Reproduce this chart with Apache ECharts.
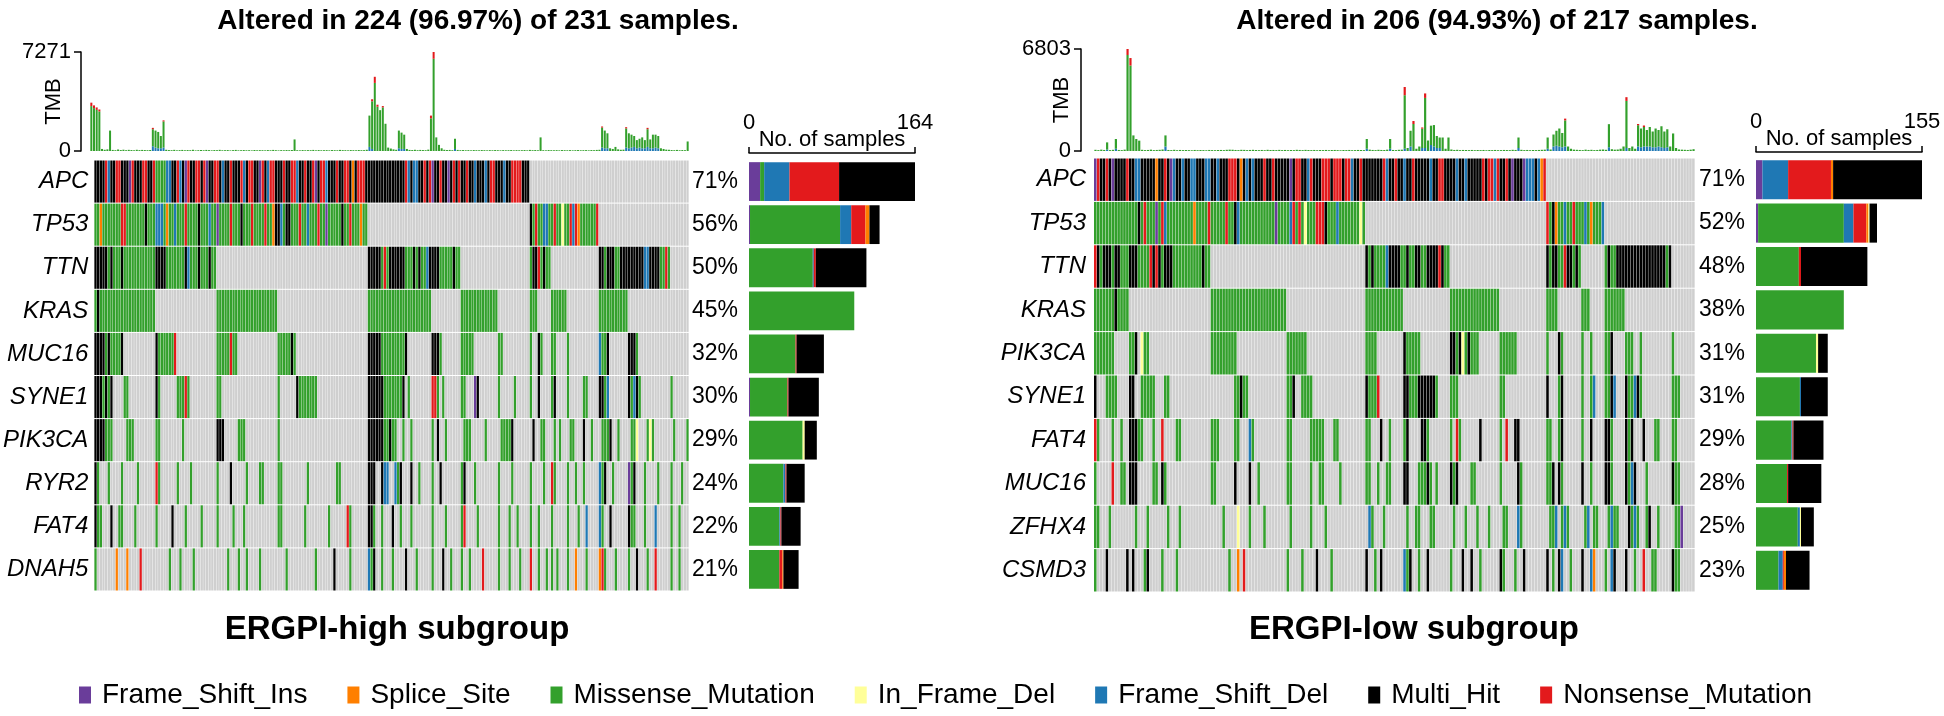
<!DOCTYPE html>
<html>
<head>
<meta charset="utf-8">
<title>Oncoplot ERGPI subgroups</title>
<script src="https://cdn.jsdelivr.net/npm/echarts@6.0.0/dist/echarts.min.js"></script>
<style>
html, body { margin: 0; padding: 0; background: #fff; }
#main { width: 1944px; height: 716px; }
</style>
</head>
<body>
<div id="main"></div>
<script>
// variant classes, legend order
var classNames = ['Frame_Shift_Ins', 'Splice_Site', 'Missense_Mutation', 'In_Frame_Del', 'Frame_Shift_Del', 'Multi_Hit', 'Nonsense_Mutation'];
var classCodes = ['I', 'S', 'M', 'F', 'D', 'X', 'N'];
var classColors = ['#6A3D9A', '#FF7F00', '#33A02C', '#FFFF99', '#1F78B4', '#000000', '#E31A1C'];
var stackOrder = ['I', 'M', 'D', 'N', 'S', 'F', 'X'];
var noneColor = '#CFCFCF';

// ---------- ERGPI-high ----------
var hiTitle = 'Altered in 224 (96.97%) of 231 samples.';
var hiGenes = ['APC', 'TP53', 'TTN', 'KRAS', 'MUC16', 'SYNE1', 'PIK3CA', 'RYR2', 'FAT4', 'DNAH5'];
var hiPct = ['71%', '56%', '50%', '45%', '32%', '30%', '29%', '24%', '22%', '21%'];
var hiMax = 164;
var hiTmbMax = 7271;
// one run-length string per gene, "X4" = 4 samples Multi_Hit, "." = not mutated
var hiRows = [
  'X4 N1 D1 X2 N2 X3 I1 N1 X3 N2 | X2 N1 M4 D2 X2 N1 D1 X1 I1 N1 X2 N2 | X1 N1 I1 X2 N2 X1 D1 X2 N1 X3 N1 D1 X1 N2 | X2 I1 N1 X1 D1 N2 X3 N1 X1 X1 N2 D1 X2 N1 | X2 N1 I1 X1 N2 D1 X3 N1 X2 N2 X1 S1 X1 N3 X1 | X14 N1 D1 X1 D2 X2 N1 X1 N1 I1 X2 N1 X2 I1 X1 N1 X1 N1 X2 N1 X2 D1 X3 D1 X1 N2 X3 D1 X2 N4 X3 | .60',
  'M2 S1 M7 N2 M7 X1 M3 D3 M1 S1 M2 D1 M3 N1 M4 X1 M3 D1 M2 I1 M4 N1 M3 X1 M3 N1 M4 N1 M2 S1 X2 D1 M1 X2 M3 N1 M2 D1 M3 N1 M2 I1 M5 X1 M2 N1 M3 S1 M2 | .61 | X1 M1 N1 M2 D2 M2 N1 M2 F1 M2 N1 D1 N1 S1 M6 N1 | .34',
  'X5 M1 X1 M3 X1 M12 X4 M7 X1 D1 M3 X1 M3 X1 M2 | .57 | X5 M1 N1 M1 X6 M3 X1 M1 X1 M2 D1 X4 M5 X1 M2 | .26 | M1 X2 N1 M1 X1 M2 | .18 | X2 M1 X3 M2 X9 D2 X4 M2 N1 M1 | .7',
  'M1 X1 M21 | .23 | M23 | .34 | M24 | .11 | M14 | .12 | M3 | .5 | M6 | .12 | M11 | .16 | .7',
  'X4 M1 X1 M4 X1 .12 | X1 M6 N1 .15 | M5 N1 M2 .15 | M5 X1 M1 .27 | X5 M9 X1 .9 | X3 M1 .7 | M5 .9 | M2 .10 | M1 .2 | X1 M1 .3 | M2 .4 | M1 .11 | D1 M2 X1 .7 | X3 M1 .12 | .7',
  'X3 M1 X1 M1 X1 .4 M2 .10 | X1 M1 .6 M3 N1 M1 .10 | M2 .6 .15 | M1 .6 X1 M7 .19 | X6 M7 X1 .1 M1 .8 | N2 M1 .1 M1 .6 | M2 .3 I1 X1 .7 | M1 .5 M1 .5 | M1 .2 | X1 .4 | M1 X1 .4 | M1 .5 M2 .4 | X2 M1 D1 .7 | X1 M1 D1 X1 M1 .11 | M1 .6',
  'X4 M3 .5 M3 .8 | M2 .8 M1 .12 | X3 .5 M3 .12 | M1 .33 | X6 M2 X1 M2 .2 M1 .2 M1 .7 | M1 .1 X1 .2 M1 .6 | M3 .5 M1 .5 | M4 X1 .7 | X1 .2 | M2 .3 | M1 .1 M1 .3 | M2 .3 X1 .2 M1 .3 | M3 X1 .2 M1 .4 | M2 F1 .3 M1 F1 M1 .7 | M1 .4 M1 .1',
  'X1 M1 .3 M1 .4 M1 .5 M1 .6 | N1 M1 .6 M1 .4 M1 .9 | M1 .4 X1 .5 M1 .4 M2 .5 | M2 .9 M1 .10 M2 .10 | X3 .2 X1 D2 .2 D1 M1 X1 .3 X1 .2 M1 .4 | M1 .2 X1 .7 | M1 X1 .3 M1 .8 | M1 .4 M1 .6 | M1 .2 | .2 M1 .2 | N1 M1 .4 | M1 .2 M1 .2 M1 .5 | D1 M1 X1 .2 M1 .5 | I1 M1 X1 .3 M1 .4 M1 .4 | M1 .3 M1 .2',
  'X1 M2 .3 X1 .2 M2 .4 M1 .7 | M1 .5 X1 .4 M1 .5 M1 .5 | M1 .5 M1 .3 M1 .12 | M2 .8 M1 .8 M1 .6 N1 M1 .6 | X2 M1 .2 M1 .3 X1 .2 M1 .3 M1 .7 | M1 .4 M1 .5 | M1 N1 .4 M1 .7 | M1 .3 M1 .2 M1 .4 | M1 .2 | M1 .4 | M1 .5 | M1 .3 M1 .2 D1 .4 | D1 M1 .2 X1 .6 | X1 M2 .3 M1 .3 D1 .5 | M1 .2 M1 .3',
  'M1 .7 S1 .3 S1 .4 N1 .5 | .5 M1 .3 M1 .4 M1 .8 | .4 M1 .3 M1 .2 M1 .4 M1 .6 | .3 M1 .10 M1 .6 X1 .5 M1 .6 | D1 M1 X1 .2 M1 .3 M1 .4 X1 .3 M1 .5 | M1 .3 X1 .2 M1 .3 | M1 .2 M1 .4 N1 .5 | M1 .3 M1 .3 M1 .3 | N1 .2 | M1 .2 M1 .1 | M1 .1 M1 .3 | M1 .2 S1 .3 M1 .4 | S1 N1 M1 .3 M1 .4 | M1 .2 X1 .3 M1 .2 N1 .5 | M1 .2 M1 .3'
];
var hiTmb = [
  3550, 3350, 3200, 3050, 150, 90, 120, 1500, 80, 60, 110, 70, 95, 60, 85, 70,
  55, 90, 65, 80, 70, 60, 75, 1700, 1500, 1400, 1100, 2250, 90, 70, 60, 85,
  50, 65, 80, 55, 70, 60, 90, 45, 60, 75, 55, 80, 65, 50, 70, 60,
  85, 55, 60, 70, 45, 65, 80, 50, 60, 70, 55, 60, 45, 75, 55, 65,
  60, 50, 70, 55, 80, 60, 45, 65, 55, 70, 60, 75, 850, 60, 50, 70,
  55, 65, 60, 80, 50, 70, 55, 60, 65, 50, 70, 60, 55, 80, 65, 60,
  50, 70, 60, 55, 75, 60, 65, 90, 2600, 3800, 5450, 3400, 3000, 3300, 2000, 250,
  180, 120, 90, 1500, 1350, 1200, 150, 80, 70, 90, 60, 80, 70, 60, 100, 2600,
  7271, 1000, 450, 200, 90, 70, 80, 60, 900, 80, 60, 70, 55, 65, 50, 70,
  60, 55, 70, 60, 50, 65, 55, 70, 60, 50, 65, 55, 60, 70, 50, 65,
  55, 60, 70, 50, 80, 60, 70, 55, 1000, 60, 50, 70, 60, 55, 65, 50,
  70, 60, 55, 65, 50, 60, 70, 55, 60, 65, 50, 70, 60, 80, 90, 1800,
  1500, 1300, 200, 150, 300, 120, 90, 100, 1750, 1300, 1200, 1100, 800, 900, 1000, 800,
  1700, 850, 1200, 1200, 1100, 200, 150, 100, 90, 70, 60, 80, 55, 70, 60, 700
];
// nonsense (red top) and frame-shift (blue bottom) part of some TMB bars, by sample index
var hiTmbNon = {0: 250, 1: 200, 2: 180, 3: 150, 23: 100, 27: 80, 105: 150, 106: 450, 107: 150, 109: 100, 127: 200, 128: 500, 191: 80, 200: 90, 208: 100};
var hiTmbDel = {23: 350, 24: 250, 25: 200, 26: 200, 27: 250, 104: 300, 105: 150, 115: 200, 116: 150, 117: 150, 136: 150, 191: 250, 192: 200, 193: 200, 200: 250, 201: 200, 202: 250, 203: 300, 204: 200, 205: 250, 206: 200, 207: 200, 208: 300, 209: 200, 210: 200, 211: 250, 212: 200};
// No. of samples per class and gene
var hiBarI = [11, 1, 0, 0, 0, 1, 0, 0, 0, 0];
var hiBarS = [0, 4, 0, 0, 0, 0, 0, 0, 0, 1];
var hiBarM = [4, 89, 63, 104, 46, 37, 53, 34, 30, 30];
var hiBarF = [0, 0, 0, 0, 0, 0, 2, 0, 0, 0];
var hiBarD = [25, 11, 1, 0, 0, 0, 0, 2, 1, 0];
var hiBarX = [75, 10, 50, 0, 27, 30, 12, 18, 19, 15];
var hiBarN = [49, 14, 2, 0, 1, 1, 0, 1, 1, 3];

// ---------- ERGPI-low ----------
var loTitle = 'Altered in 206 (94.93%) of 217 samples.';
var loGenes = ['APC', 'TP53', 'TTN', 'KRAS', 'PIK3CA', 'SYNE1', 'FAT4', 'MUC16', 'ZFHX4', 'CSMD3'];
var loPct = ['71%', '52%', '48%', '38%', '31%', '31%', '29%', '28%', '25%', '23%'];
var loMax = 155;
var loTmbMax = 6803;
var loRows = [
  'I1 N1 X2 N1 X1 I1 X4 N1 X2 D2 X5 S1 X2 N1 X1 I1 D1 X2 | D1 X2 D2 X3 D2 X2 D1 X3 N3 X1 S1 X1 D1 X1 D1 X3 N1 X1 | X1 N1 X5 I1 X1 N2 X2 D1 N1 X3 N3 X1 N3 X1 N2 D1 X2 N1 X1 | X6 N1 D1 X2 N1 X2 D1 X2 N1 X5 D1 X2 N2 X4 D1 X2 D1 X5 N1 X1 N2 D1 N1 X2 N1 X1 I1 X3 I1 D3 X1 D1 S1 N1 | .51',
  'M15 X1 M1 N1 M3 I1 M1 N1 D1 M9 S1 M4 N1 M5 N1 M2 X1 D1 M12 I1 M4 D1 N1 M1 N1 M1 F1 M3 N3 X1 M3 D1 M7 F1 M1 | .62 | N1 M1 X1 S1 M2 D1 M2 N1 M3 D1 M1 S1 M3 D1 | .31',
  'N1 X1 M1 X3 M1 X2 M3 X3 M4 N1 X1 N1 X1 M1 X3 M10 X1 M2 | .53 | X1 M1 X1 M4 D1 X4 M2 X1 M2 X2 M2 X4 N1 X1 M2 | .33 | X1 M1 X2 M2 N1 X2 M1 X1 M1 | .8 | M1 X1 M2 X17 M1 X1 | .8',
  'M7 X1 M4 | .28 | M26 | .27 | M13 | .16 | M17 | .16 | M4 | .8 | M3 | .5 | M7 | .16 | .8',
  'M7 .5 | M2 X1 .1 F1 M2 .21 | M9 .17 | M7 .20 | M4 .9 | X1 M5 .10 | X2 M1 X1 F1 M1 X1 M3 .7 | M6 .10 | M1 .3 | X1 M1 .6 | M1 .2 | M1 .4 | M2 X1 .4 | M3 .2 M1 .10 | M1 .7',
  'X1 .3 M4 .4 | X2 .2 M5 .3 M2 .14 | .8 M2 X1 M2 .13 | M2 X1 .2 M4 .18 | X1 M3 N1 .8 | X2 M3 X6 M1 .4 | M3 .14 | M2 .14 | X1 .3 | M1 X1 .6 | M1 .2 | M1 D1 .3 | M2 X1 D1 .3 | X1 M2 D1 X1 M1 .10 | M3 .5',
  'N1 M1 .4 M1 .2 M1 .2 | X3 M2 .3 M1 .2 N1 .4 M2 .10 | M3 .5 M2 .3 D1 M1 .11 | M2 .6 M5 .3 M2 .9 | M2 .3 X1 .2 M1 .4 | M1 X1 .4 X2 M1 .7 | M1 .1 N1 M1 .6 X1 .6 | M1 .1 N1 .2 X2 .9 | M2 .2 | M1 X1 .6 | M1 .2 | X1 .4 | X2 M1 .4 | X1 M1 X1 .3 X1 .3 M2 .4 | M2 .6',
  'M1 .5 N1 .2 M2 .1 | X3 .5 M2 .1 X1 M1 .15 | M2 .6 X1 .4 X1 .2 M1 .9 | M2 .6 M1 .2 M2 .5 M1 .8 | M2 .2 M1 .2 M2 .4 | X2 .3 M3 X1 M1 .1 M1 .4 | X1 M1 X1 .4 M2 .8 | M1 .5 X1 M1 .8 | M2 X1 .1 | X1 M1 .6 | X1 .2 | M1 .4 | X2 M1 .4 | X1 M1 D1 X1 .3 M1 .8 | X1 M2 .5',
  'M2 .3 M1 .6 | .2 M1 .3 M1 .6 M1 .3 M1 .11 | .3 M1 .4 F1 .3 M1 .4 M1 .8 | M1 .6 M1 .4 M1 .14 | D1 M1 .3 M1 .7 | M1 .2 M2 .3 M2 .6 | M1 .3 M1 .3 M1 .3 M1 .4 | M2 .3 D1 M1 .9 | M2 D1 .1 | M1 D1 M1 .5 | M1 D1 .1 | M2 .3 | M1 D1 M2 .3 | X1 M1 D1 M1 .2 M1 X1 .2 M1 .5 | M2 I1 .5',
  'M1 .3 X1 .6 X1 | .1 X1 .3 M1 X1 .4 M1 .4 M1 .11 | .6 M1 .2 S1 .1 N1 .14 | M1 .4 M1 .4 X1 .4 M1 .11 | X1 .2 M1 .1 X1 .7 | D1 M1 X1 .2 M1 .2 X1 .7 | M1 .3 X1 .2 X1 .2 M1 .6 | X1 M1 .3 M1 .2 X1 .7 | X1 .1 M1 .1 | X1 D1 .2 M1 .3 | X1 .2 | D1 S1 .3 | M1 .1 D1 X1 .3 | X1 .2 M1 .2 N1 .2 M2 .5 | X1 M2 .5'
];
var loTmb = [
  80, 60, 90, 70, 575, 60, 80, 800, 70, 60, 90, 6803, 6200, 1040, 800, 690,
  80, 60, 70, 90, 60, 70, 80, 100, 1040, 70, 60, 80, 55, 70, 60, 65,
  60, 50, 70, 55, 65, 60, 50, 70, 60, 55, 65, 70, 60, 80, 90, 85,
  70, 60, 80, 75, 60, 70, 80, 65, 60, 70, 55, 80, 65, 70, 60, 75,
  60, 70, 55, 65, 60, 80, 70, 60, 75, 65, 60, 70, 55, 65, 60, 70,
  55, 65, 70, 60, 50, 65, 60, 70, 55, 60, 70, 65, 60, 800, 90, 70,
  60, 80, 70, 65, 90, 800, 70, 60, 80, 90, 4270, 200, 1350, 2000, 150, 300,
  1570, 3840, 700, 1690, 1730, 1000, 900, 900, 150, 900, 100, 70, 80, 60, 70, 65,
  60, 70, 55, 65, 60, 70, 50, 65, 60, 70, 55, 60, 70, 65, 60, 80,
  70, 900, 80, 60, 70, 55, 65, 60, 70, 80, 90, 900, 100, 1100, 1350, 1500,
  1200, 2160, 300, 150, 90, 80, 70, 60, 90, 70, 80, 60, 70, 90, 100, 80,
  1790, 120, 90, 100, 150, 300, 3590, 200, 300, 150, 1800, 1500, 1700, 1400, 1600, 1300,
  1500, 1400, 1650, 1300, 1450, 300, 1170, 200, 100, 90, 80, 70, 90, 120
];
var loTmbNon = {11: 400, 12: 500, 106: 550, 109: 200, 112: 80, 113: 300, 161: 120, 182: 250, 186: 80, 188: 100};
var loTmbDel = {4: 100, 7: 150, 24: 300, 93: 150, 101: 150, 106: 150, 108: 300, 112: 200, 113: 200, 115: 400, 116: 300, 117: 200, 118: 200, 145: 200, 155: 150, 157: 300, 158: 350, 159: 300, 160: 250, 161: 300, 176: 250, 182: 200, 186: 300, 187: 250, 188: 300, 189: 300, 190: 300, 191: 250, 192: 250, 193: 300, 194: 250, 195: 200, 196: 250};
var loBarI = [6, 2, 0, 0, 0, 0, 0, 0, 0, 0];
var loBarS = [2, 2, 0, 0, 0, 0, 0, 0, 0, 2];
var loBarM = [0, 80, 40, 82, 56, 41, 33, 29, 39, 21];
var loBarF = [0, 1, 0, 0, 2, 0, 0, 0, 1, 0];
var loBarD = [24, 9, 0, 0, 0, 1, 1, 0, 2, 4];
var loBarX = [83, 7, 62, 0, 9, 25, 28, 31, 12, 22];
var loBarN = [40, 12, 2, 0, 0, 0, 1, 1, 0, 1];

var FONT = 'Liberation Sans, Arial, Helvetica, sans-serif';
var cellCodes = ['.'].concat(classCodes);
var cellColors = [noneColor].concat(classColors);

function decodeRow(rle, n) {
  var out = [];
  rle.trim().split(/\s+/).forEach(function (t) {
    if (t === '|') return;
    var k = parseInt(t.slice(1), 10);
    for (var i = 0; i < k; i++) out.push(t.charAt(0));
  });
  if (out.length !== n) console.warn('row length ' + out.length + ' != ' + n);
  while (out.length < n) out.push('.');
  return out.slice(0, n);
}

function drawCell(params, api) {
  var c = api.coord([api.value(0), api.value(1)]);
  var s = api.size([1, 1]);
  return {
    type: 'rect',
    shape: { x: c[0] - s[0] / 2, y: c[1] - s[1] / 2 + 0.5, width: s[0] - 0.35, height: s[1] - 1 },
    style: { fill: cellColors[api.value(2)] }
  };
}

function addPanel(opt, id, d, L) {
  var g = opt.grid.length, xa = opt.xAxis.length, ya = opt.yAxis.length;
  var n = d.tmb.length;
  var idx = [];
  for (var i = 0; i < n; i++) idx.push(String(i));

  opt.grid.push({ left: L.x, width: L.w, top: L.tmbTop, height: L.tmbH });
  opt.grid.push({ left: L.x, width: L.w, top: L.heatTop, height: L.heatH });
  opt.grid.push({ left: L.barX, width: L.barW, top: L.heatTop, height: L.heatH });

  // TMB
  opt.xAxis.push({ type: 'category', gridIndex: g, data: idx, show: false });
  opt.yAxis.push({
    type: 'value', gridIndex: g, min: 0, max: d.tmbMax, interval: d.tmbMax, offset: L.tmbAxisOffset,
    axisLine: { show: true, lineStyle: { color: '#000', width: 1.5 } },
    axisTick: { show: true, length: 7, lineStyle: { color: '#000', width: 1.5 } },
    axisLabel: { fontSize: 22, color: '#000', margin: 10, fontFamily: FONT, formatter: function (v) { return String(v); } },
    splitLine: { show: false },
    name: 'TMB', nameLocation: 'middle', nameRotate: 90, nameGap: L.tmbNameGap, nameMoveOverlap: false,
    nameTextStyle: { fontSize: 22, color: '#000', fontFamily: FONT }
  });
  // heatmap
  opt.xAxis.push({ type: 'category', gridIndex: g + 1, data: idx, show: false });
  opt.yAxis.push({
    type: 'category', gridIndex: g + 1, data: d.genes, inverse: true,
    axisLine: { show: false }, axisTick: { show: false },
    axisLabel: { fontSize: 24, fontStyle: 'italic', color: '#000', margin: L.geneMargin, fontFamily: FONT }
  });
  opt.yAxis.push({
    type: 'category', gridIndex: g + 1, data: d.pct, inverse: true, position: 'right',
    axisLine: { show: false }, axisTick: { show: false },
    axisLabel: { fontSize: 23, color: '#000', margin: L.pctMargin, fontFamily: FONT }
  });
  // No. of samples bars
  opt.xAxis.push({
    type: 'value', gridIndex: g + 2, position: 'top', min: 0, max: d.max, interval: d.max, offset: L.barAxisOffset,
    axisLine: { show: true, lineStyle: { color: '#000', width: 1.5 } },
    axisTick: { show: true, length: 6, lineStyle: { color: '#000', width: 1.5 } },
    axisLabel: { fontSize: 22, color: '#000', margin: 19, fontFamily: FONT },
    splitLine: { show: false },
    name: 'No. of samples', nameLocation: 'middle', nameGap: 2, nameMoveOverlap: false,
    nameTextStyle: { fontSize: 22, color: '#000', fontFamily: FONT }
  });
  opt.yAxis.push({ type: 'category', gridIndex: g + 2, data: d.genes, inverse: true, show: false });

  // TMB stacked bars
  var del = [], mis = [], non = [];
  d.tmb.forEach(function (v, i) {
    var a = d.tmbDel[i] || 0, b = d.tmbNon[i] || 0;
    del.push(a); non.push(b); mis.push(v - a - b);
  });
  [['Del', del, classColors[4]], ['Mis', mis, classColors[2]], ['Non', non, classColors[6]]].forEach(function (s) {
    opt.series.push({
      type: 'bar', name: 'tmb' + s[0] + id, stack: 'tmb' + id, xAxisIndex: xa, yAxisIndex: ya,
      data: s[1], itemStyle: { color: s[2] }, barCategoryGap: '25%', silent: true
    });
  });

  // oncoplot cells
  var cells = [];
  d.rows.forEach(function (rle, r) {
    decodeRow(rle, n).forEach(function (code, c) {
      cells.push([c, r, cellCodes.indexOf(code)]);
    });
  });
  opt.series.push({
    type: 'custom', name: 'cells' + id, xAxisIndex: xa + 1, yAxisIndex: ya + 1,
    renderItem: drawCell, data: cells, encode: { x: 0, y: 1 }, silent: true
  });

  // stacked class bars
  stackOrder.forEach(function (code) {
    var k = classCodes.indexOf(code);
    opt.series.push({
      type: 'bar', name: classNames[k], stack: 'n' + id, xAxisIndex: xa + 2, yAxisIndex: ya + 3,
      data: d.bars[code], itemStyle: { color: classColors[k] }, barCategoryGap: '10%', silent: true
    });
  });

  opt.graphic.push({
    type: 'text', x: L.titleX, y: 21,
    style: { text: d.title, fontSize: 28, fontWeight: 'bold', fontFamily: FONT, fill: '#000', align: 'center', verticalAlign: 'middle' }
  });
  opt.graphic.push({
    type: 'text', x: L.subX, y: 630,
    style: { text: d.sub, fontSize: 33, fontWeight: 'bold', fontFamily: FONT, fill: '#000', align: 'center', verticalAlign: 'middle' }
  });
}

var option = {
  animation: false,
  backgroundColor: '#fff',
  grid: [], xAxis: [], yAxis: [], series: [], graphic: [],
  legend: {
    data: classNames, left: 74, top: 676, icon: 'rect', itemWidth: 12, itemHeight: 17, itemGap: 40,
    textStyle: { fontSize: 28, color: '#000', fontFamily: FONT, padding: [0, 0, 0, 6] },
    selectedMode: false
  }
};

addPanel(option, 'hi', {
  title: hiTitle, sub: 'ERGPI-high subgroup', genes: hiGenes, pct: hiPct, max: hiMax, tmbMax: hiTmbMax,
  rows: hiRows, tmb: hiTmb, tmbNon: hiTmbNon, tmbDel: hiTmbDel,
  bars: { I: hiBarI, S: hiBarS, M: hiBarM, F: hiBarF, D: hiBarD, X: hiBarX, N: hiBarN }
}, {
  x: 90, w: 599, tmbTop: 52, tmbH: 99, heatTop: 160, heatH: 431, tmbAxisOffset: 9, tmbNameGap: 16,
  geneMargin: 6, pctMargin: 3, barX: 749, barW: 166, barAxisOffset: 7, titleX: 478, subX: 397
});
addPanel(option, 'lo', {
  title: loTitle, sub: 'ERGPI-low subgroup', genes: loGenes, pct: loPct, max: loMax, tmbMax: loTmbMax,
  rows: loRows, tmb: loTmb, tmbNon: loTmbNon, tmbDel: loTmbDel,
  bars: { I: loBarI, S: loBarS, M: loBarM, F: loBarF, D: loBarD, X: loBarX, N: loBarN }
}, {
  x: 1094, w: 601, tmbTop: 49, tmbH: 102, heatTop: 158, heatH: 434, tmbAxisOffset: 13, tmbNameGap: 8,
  geneMargin: 8, pctMargin: 4, barX: 1756, barW: 166, barAxisOffset: 6, titleX: 1497, subX: 1414
});

var myChart = echarts.init(document.getElementById('main'));
myChart.setOption(option);
</script>
</body>
</html>
